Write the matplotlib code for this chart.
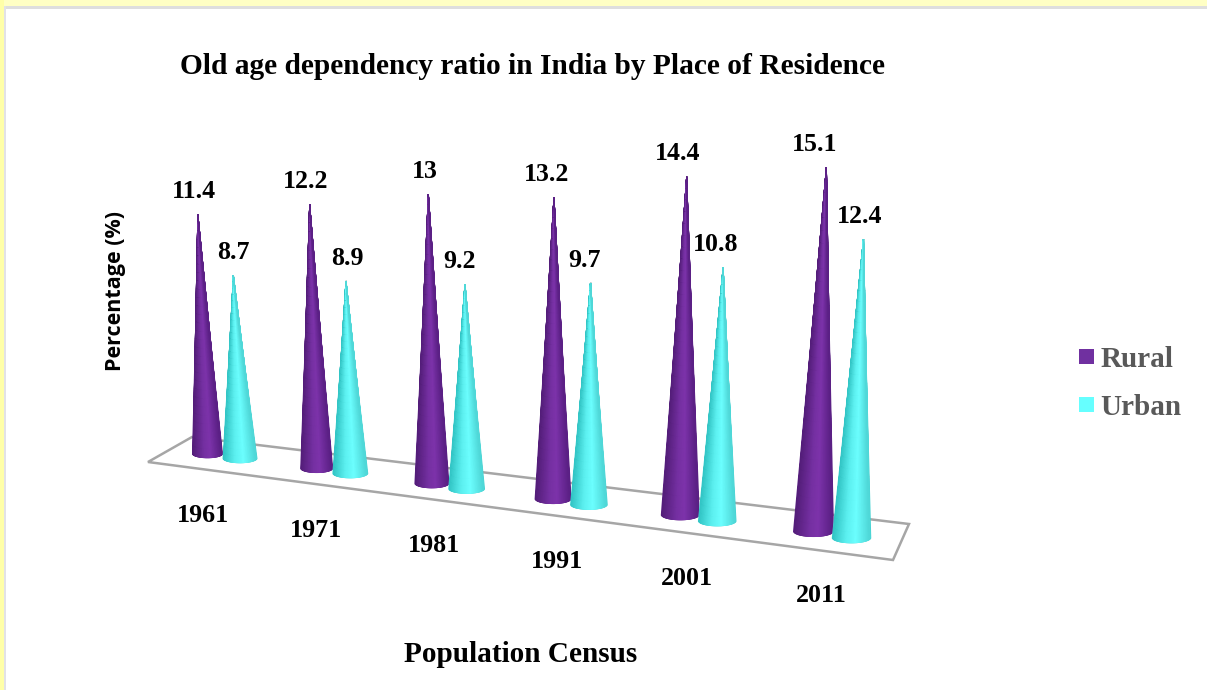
import numpy as np
import matplotlib
matplotlib.use("Agg")
import matplotlib.pyplot as plt
from matplotlib.colors import LinearSegmentedColormap
from matplotlib.patches import Rectangle, Polygon

years = ["1961", "1971", "1981", "1991", "2001", "2011"]
rural = [11.4, 12.2, 13, 13.2, 14.4, 15.1]
urban = [8.7, 8.9, 9.2, 9.7, 10.8, 12.4]
series_names = ["Rural", "Urban"]
title = "Old age dependency ratio in India by Place of Residence"
xlabel = "Population Census"
ylabel = "Percentage (%)"

W, H = 1207, 690
SERIF = "Liberation Serif"
fig = plt.figure(figsize=(W / 100, H / 100), dpi=100)
ax = fig.add_axes([0, 0, 1, 1])
ax.set_xlim(0, W)
ax.set_ylim(H, 0)
ax.axis("off")

# page frame
fig.patch.set_facecolor("white")
ax.add_patch(Rectangle((0, 0), W, 6, fc="#FFFFC4", ec="none", zorder=0))
ax.add_patch(Rectangle((0, 0), 3.5, H, fc="#FFFFA8", ec="none", zorder=0))
ax.add_patch(Rectangle((3.5, 6), W, 2.5, fc="#DEDEDE", ec="none", zorder=0))
ax.add_patch(Rectangle((3.5, 6), 2.5, H, fc="#E2E2E6", ec="none", zorder=0))

# floor
ax.add_patch(Polygon([(148, 462), (192, 437), (909, 524), (893, 560)], closed=True,
                     fc="white", ec="#A6A6A6", lw=1.8, zorder=1))


def base_point(i, s):
    """Perspective placement of the category slot on the floor."""
    x = 207.5 + 106.2 * i + 3.0 * i ** 2
    y = 454 + 14.3 * i + 0.24 * i ** 2
    if s == 1:
        x += 32.5 + 1.1 * i
        y += 4.5 + 0.4 * i
    return x, y


cmaps = [
    LinearSegmentedColormap.from_list("r", [(0, "#5B2085"), (0.38, "#7D33AB"), (0.6, "#7530A2"),
                                            (1, "#541E7A")]),
    LinearSegmentedColormap.from_list("u", [(0, "#4FD8D8"), (0.38, "#6CFFFF"), (0.65, "#5CF0F0"),
                                            (1, "#33C6C6")]),
]
edge_cols = ["#5A2084", "#45D2D2"]


def cone(i, s, value):
    cx, cy = base_point(i, s)
    scale = 21.0 + 0.62 * i
    h = value * scale
    r = (15.5 + 1.0 * i) if s == 0 else (17.5 + 0.45 * i)
    b = r * 0.27
    tip = (cx + 1.25e-4 * (cx - 530) * h, cy - h)
    th = np.linspace(np.pi, 0, 61)
    bx = cx + r * np.cos(th)
    by = cy + b * np.sin(th)
    mx = cx + 0.93 * r * np.cos(th)
    my = cy + 0.9 * b * np.sin(th)
    f = np.linspace(0, 1, 30)[:, None]
    X = tip[0] + (mx - tip[0]) * f
    Y = tip[1] + (my - tip[1]) * f
    C = np.tile((-np.cos(th) + 1) / 2, (30, 1))
    z = 3 + i * 2 + s
    # anti-aliased outline below the shaded mesh
    ax.add_patch(Polygon(np.column_stack([np.r_[tip[0], bx], np.r_[tip[1], by]]), closed=True,
                         fc=edge_cols[s], ec="none", zorder=z))
    ax.pcolormesh(X, Y, C, shading="gouraud", cmap=cmaps[s], vmin=0, vmax=1, zorder=z + 0.5)
    return tip


label_dx = [[-4, -4, -4, -7, -9, -12], [0, 1, -5, -6, -8, -4]]
for s, vals in enumerate((rural, urban)):
    for i, v in enumerate(vals):
        tx, ty = cone(i, s, v)
        ax.text(tx + label_dx[s][i], ty - 23, f"{v:g}", family=SERIF, weight="bold",
                fontsize=18.6, color="black", ha="center", va="center", zorder=30)

for i, y in enumerate(years):
    ax.text(203 + 110 * i + 2.72 * i ** 2, 516 + 14.4 * i + 0.28 * i ** 2, y, family=SERIF,
            weight="bold", fontsize=18.7, ha="center", va="center", color="black")

ax.text(532.5, 66, title, family=SERIF, weight="bold", fontsize=21.2, ha="center",
        va="center", color="black")
ax.text(520.5, 655, xlabel, family=SERIF, weight="bold", fontsize=21.1, ha="center",
        va="center", color="black")
ax.text(116, 291, ylabel, family="Open Sans", weight="bold", fontsize=15.5, rotation=90,
        ha="center", va="center", color="black")

for k, (name, col) in enumerate(zip(series_names, ("#7030A0", "#66FFFF"))):
    y0 = 349 + 48 * k
    ax.add_patch(Rectangle((1079, y0), 15, 15, fc=col, ec="none"))
    ax.text(1100.5, y0 + 10.5, name, family=SERIF, weight="bold", fontsize=21, color="#595959",
            ha="left", va="center")

fig.savefig("out.png", dpi=100, facecolor="white")
